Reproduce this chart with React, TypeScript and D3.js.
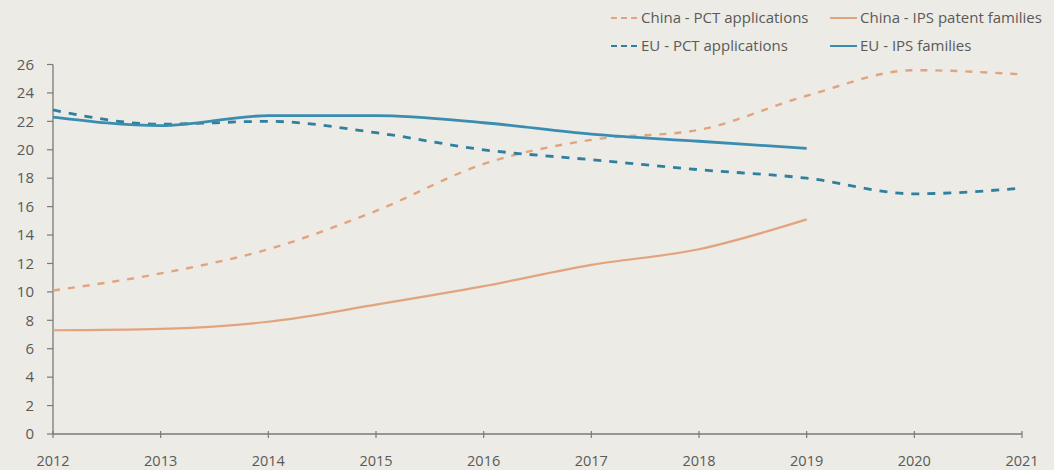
import React from "react";
import * as d3 from "d3";

const years = [2012, 2013, 2014, 2015, 2016, 2017, 2018, 2019, 2020, 2021];
const chinaPct = [10.1, 11.3, 13.0, 15.7, 19.0, 20.7, 21.4, 23.8, 25.6, 25.3];
const chinaIps = [7.3, 7.4, 7.9, 9.1, 10.4, 11.9, 13.0, 15.1];
const euPct = [22.8, 21.8, 22.0, 21.2, 20.0, 19.3, 18.6, 18.0, 16.9, 17.3];
const euIps = [22.3, 21.7, 22.4, 22.4, 21.9, 21.1, 20.6, 20.1];
const yTicks = [0, 2, 4, 6, 8, 10, 12, 14, 16, 18, 20, 22, 24, 26];

const ORANGE = "#e2a47e";
const BLUE = "#3a8db0";
const BLUE_D = "#2f7f9f";
const AXIS = "#7a7a78";
const TEXT = "#5a5a58";
const FONT = "'Open Sans', 'Liberation Sans', sans-serif";

export default function App() {
  const W = 1054, H = 470;
  const x = d3.scaleLinear().domain([2012, 2021]).range([53, 1022]);
  const y = d3.scaleLinear().domain([0, 26]).range([434, 64.5]);
  const line = d3
    .line<number>()
    .x((_, i) => x(years[i]))
    .y((d) => y(d))
    .curve(d3.curveMonotoneX);

  const series = [
    { data: chinaPct, color: ORANGE, dash: "7,8", w: 2.4 },
    { data: chinaIps, color: ORANGE, dash: null, w: 2.2 },
    { data: euPct, color: BLUE_D, dash: "8,8", w: 2.8 },
    { data: euIps, color: BLUE, dash: null, w: 2.8 },
  ];

  const legend = [
    { label: "China - PCT applications", color: ORANGE, dash: "6,4", lx: 611, ly: 18 },
    { label: "China - IPS patent families", color: ORANGE, dash: null, lx: 830, ly: 18 },
    { label: "EU - PCT applications", color: BLUE_D, dash: "6,4", lx: 611, ly: 46 },
    { label: "EU - IPS families", color: BLUE, dash: null, lx: 830, ly: 46 },
  ];

  return (
    <svg
      width={W}
      height={H}
      style={{ position: "absolute", left: 0, top: 0, background: "#ecebe6" }}
      fontFamily={FONT}
    >
      <rect x={0} y={0} width={W} height={H} fill="#ecebe6" />
      {/* axes */}
      <line x1={x(2012)} x2={x(2012)} y1={y(26)} y2={y(0)} stroke={AXIS} strokeWidth={1.3} />
      <line x1={x(2012)} x2={x(2021)} y1={y(0)} y2={y(0)} stroke={AXIS} strokeWidth={1.3} />
      {yTicks.map((t) => (
        <g key={t}>
          <line x1={x(2012) - 6} x2={x(2012)} y1={y(t)} y2={y(t)} stroke={AXIS} strokeWidth={1.2} />
          <text x={34} y={y(t)} dy="0.35em" textAnchor="end" fontSize={15} fill={TEXT}>
            {t}
          </text>
        </g>
      ))}
      {years.map((yr) => (
        <g key={yr}>
          <line x1={x(yr)} x2={x(yr)} y1={y(0) - 3} y2={y(0) + 4} stroke={AXIS} strokeWidth={1.2} />
          <text x={x(yr)} y={466} textAnchor="middle" fontSize={14.5} fill={TEXT}>
            {yr}
          </text>
        </g>
      ))}
      {/* series */}
      {series.map((s, i) => (
        <path
          key={i}
          d={line(s.data) || ""}
          fill="none"
          stroke={s.color}
          strokeWidth={s.w}
          strokeDasharray={s.dash || undefined}
        />
      ))}
      {/* legend */}
      {legend.map((l, i) => (
        <g key={i}>
          <line
            x1={l.lx}
            x2={l.lx + 27}
            y1={l.ly}
            y2={l.ly}
            stroke={l.color}
            strokeWidth={2}
            strokeDasharray={l.dash || undefined}
          />
          <text x={l.lx + 30} y={l.ly} dy="0.35em" fontSize={15} fill={TEXT}>
            {l.label}
          </text>
        </g>
      ))}
    </svg>
  );
}
